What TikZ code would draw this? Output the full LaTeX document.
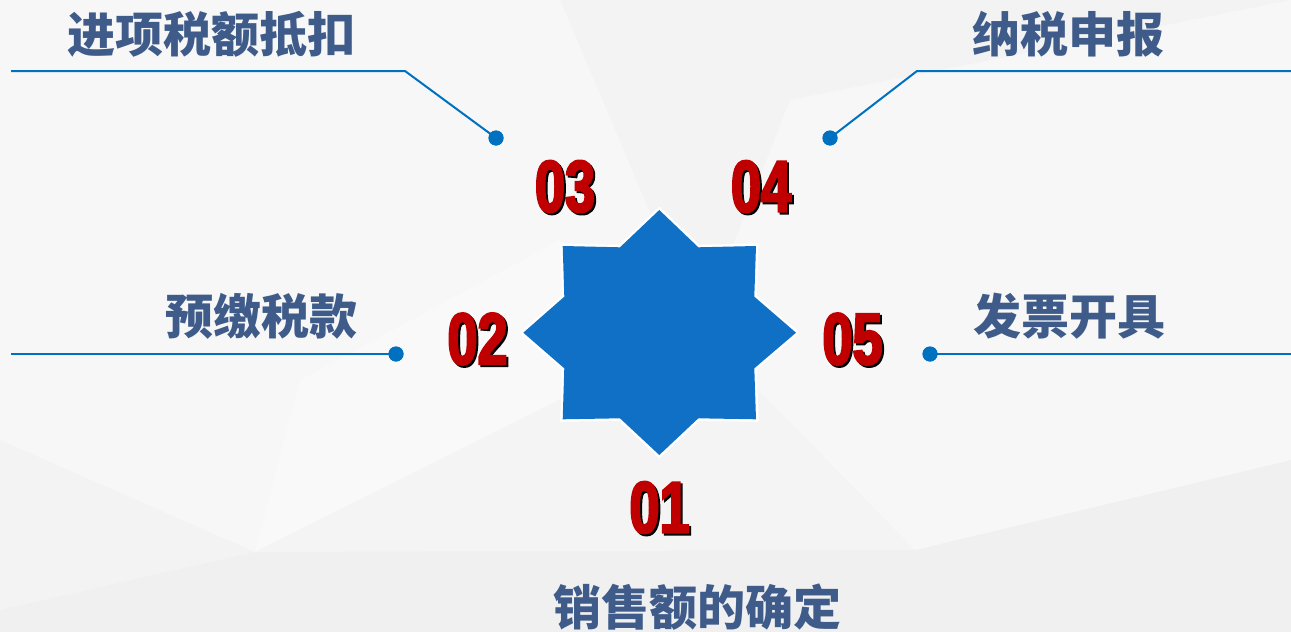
\documentclass[tikz,border=0pt]{standalone}
\usepackage{fontspec}
\newfontfamily\cjk{Noto Sans CJK SC}
\newfontfamily\numfont{Liberation Sans}[BoldFeatures={FakeStretch=0.74,FakeBold=3}]
\definecolor{bgbase}{HTML}{F3F3F4}
\definecolor{bglight}{HTML}{F7F7F7}
\definecolor{bgdark}{HTML}{F0F0F1}
\definecolor{starblue}{HTML}{1070C6}
\definecolor{lineblue}{HTML}{0070C0}
\definecolor{numred}{HTML}{C00000}
\definecolor{lblblue}{HTML}{3E5B8A}
\tikzset{
  num/.style={inner sep=0pt, font=\numfont\bfseries\fontsize{73}{73}\selectfont, text=numred},
  numshadow/.style={num, text=black},
  lbl/.style={inner sep=0pt, font=\cjk\bfseries\fontsize{48}{48}\selectfont, text=lblblue},
  conn/.style={draw=lineblue, line width=2pt},
  dot/.style={circle, fill=lineblue, inner sep=0pt, minimum size=15pt},
}
\begin{document}
\begin{tikzpicture}[x=1pt,y=-1pt]
\fill[bgbase] (0,0) rectangle (1291,632);
\useasboundingbox (0,0) rectangle (1291,632);
% background facets
\fill[bglight] (0,0) -- (560,0) -- (700,330) -- (255,552) -- (0,440) -- cycle;
\fill[bgdark] (0,610) -- (255,552) -- (700,330) -- (915,550) -- (1291,460) -- (1291,632) -- (0,632) -- cycle;
\fill[bglight] (790,100) -- (1291,0) -- (1291,460) -- (915,550) -- (700,330) -- cycle;
\fill[white, opacity=0.3] (300,380) -- (560,240) -- (700,330) -- (915,550) -- (255,552) -- cycle;
% star
\path[preaction={draw=white, line width=5pt, line join=miter}, fill=starblue]
  (659.3,210) -- (698.3,247.3) -- (756,246) -- (754.3,296.7) -- (796,332.7)
  -- (754.3,368.3) -- (756,419.3) -- (698.3,418.3) -- (659.3,455)
  -- (620,418.3) -- (562.7,419.3) -- (564.3,368.3) -- (523.3,332.7)
  -- (564.3,296.7) -- (562.7,246) -- (620,247.3) -- cycle;
% connectors
\node[dot] (d3) at (496,138) {};
\node[dot] (d4) at (830,138) {};
\node[dot] (d2) at (396,354) {};
\node[dot] (d5) at (930,354) {};
\coordinate (b3) at (405,71);
\coordinate (e3) at (11,71);
\coordinate (b4) at (917,71);
\coordinate (e4) at (1291,71);
\coordinate (e2) at (11,354);
\coordinate (e5) at (1291,354);
\draw[conn] (d3.center) -- (b3) -- (e3);
\draw[conn] (d4.center) -- (b4) -- (e4);
\draw[conn] (d2.center) -- (e2);
\draw[conn] (d5.center) -- (e5);
\node[dot] at (d3) {};
\node[dot] at (d4) {};
\node[dot] at (d2) {};
\node[dot] at (d5) {};
% labels
\node[lbl] (t3) at (211.5,34.5) {进项税额抵扣};
\node[lbl] (t4) at (1068,34.5) {纳税申报};
\node[lbl] (t2) at (261,316) {预缴税款};
\node[lbl] (t5) at (1069,316) {发票开具};
\node[lbl] (t1) at (697,607) {销售额的确定};
% numbers
\node[numshadow] at (567,188.5) {03};
\node[num] (n3) at (565,186.5) {03};
\node[numshadow] at (763,188.5) {04};
\node[num] (n4) at (761,186.5) {04};
\node[numshadow] at (479.5,341) {02};
\node[num] (n2) at (477.5,339) {02};
\node[numshadow] at (854.5,341) {05};
\node[num] (n5) at (852.5,339) {05};
\node[numshadow] at (661.5,509.5) {01};
\node[num] (n1) at (659.5,507.5) {01};
\end{tikzpicture}
\end{document}
